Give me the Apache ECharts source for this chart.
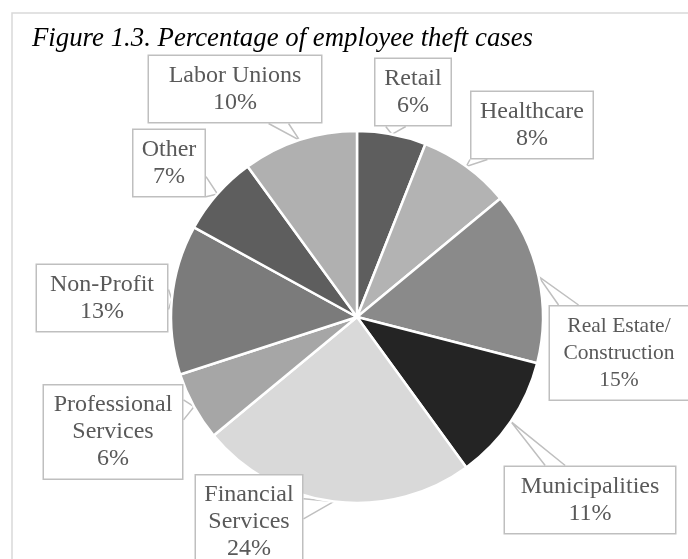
<!DOCTYPE html>
<html>
<head>
<meta charset="utf-8">
<script src="https://cdn.jsdelivr.net/npm/echarts@6/dist/echarts.min.js"></script>
<style>
  html, body { margin: 0; padding: 0; background: #ffffff; }
  #chart { width: 688px; height: 559px; }
</style>
</head>
<body>
<div id="chart"></div>
<script>
// ---- Data ----
var categories = ['Retail', 'Healthcare', 'Real Estate/\nConstruction', 'Municipalities',
  'Financial\nServices', 'Professional\nServices', 'Non-Profit', 'Other', 'Labor Unions'];
var values = [6, 8, 15, 11, 24, 6, 13, 7, 10];
var colors = ['#5e5e5e', '#b3b3b3', '#8a8a8a', '#242424', '#d9d9d9', '#a6a6a6', '#7b7b7b', '#5e5e5e', '#b0b0b0'];
var titleText = 'Figure 1.3. Percentage of employee theft cases';

// ---- Label box layout (center x, center y, box width, font size) ----
var labelBoxes = [
  [413, 92, 75, 24],
  [532, 125, 121, 24],
  [619, 353, 138, 21.5],
  [590, 500, 170, 24],
  [249, 522, 106, 24],
  [113, 432, 138, 24],
  [102, 298, 130, 24],
  [169, 163, 71, 24],
  [235, 89, 172, 24]
];

var serif = '"Liberation Serif", "Times New Roman", Times, serif';
var padH = 5;
var tailHalf = 10;

var seriesData = categories.map(function (name, i) {
  var b = labelBoxes[i];
  return {
    name: name,
    value: values[i],
    itemStyle: { color: colors[i] },
    label: {
      width: b[2] - 2 * padH,
      fontSize: b[3],
      lineHeight: 27
    }
  };
});

var chart = echarts.init(document.getElementById('chart'), null, { renderer: 'canvas' });
chart.setOption({
  backgroundColor: '#ffffff',
  animation: false,
  title: {
    text: titleText,
    left: 27,
    top: 20,
    textStyle: {
      fontFamily: serif,
      fontStyle: 'italic',
      fontWeight: 'normal',
      fontSize: 26.8,
      color: '#000000'
    }
  },
  graphic: [{
    type: 'rect',
    shape: { x: 12, y: 13, width: 700, height: 600 },
    style: { fill: 'none', stroke: '#d9d9d9', lineWidth: 1.5 },
    silent: true,
    z: -10
  }],
  series: [{
    type: 'pie',
    center: [357, 317],
    radius: 186,
    startAngle: 90,
    clockwise: true,
    avoidLabelOverlap: false,
    itemStyle: { borderColor: '#ffffff', borderWidth: 2.5 },
    label: {
      show: true,
      formatter: function (p) { return p.name + '\n' + p.value + '%'; },
      fontFamily: serif,
      color: '#595959',
      align: 'center',
      backgroundColor: '#ffffff',
      borderColor: '#bfbfbf',
      borderWidth: 1.5,
      padding: [7, padH, 5, padH]
    },
    labelLine: {
      show: true,
      length: 10,
      length2: 10,
      smooth: false,
      lineStyle: { color: '#bfbfbf', width: 1.5 }
    },
    labelLayout: function (params) {
      var b = labelBoxes[params.dataIndex];
      var res = { x: b[0], y: b[1], align: 'center', verticalAlign: 'middle' };
      var pts = params.labelLinePoints;
      if (pts && pts.length) {
        var s = pts[0];
        var hw = params.labelRect.width / 2, hh = params.labelRect.height / 2;
        var dx = b[0] - s[0], dy = b[1] - s[1];
        var tx = Math.abs(dx) > 1e-6 ? 1 - hw / Math.abs(dx) : -Infinity;
        var ty = Math.abs(dy) > 1e-6 ? 1 - hh / Math.abs(dy) : -Infinity;
        var t = Math.max(tx, ty, 0);
        var ex = s[0] + dx * t, ey = s[1] + dy * t;
        var a, c;
        if (ty >= tx) {
          // enters through top/bottom edge: spread along x
          var ax = Math.max(b[0] - hw, ex - tailHalf), cx = Math.min(b[0] + hw, ex + tailHalf);
          a = [ax, ey]; c = [cx, ey];
        } else {
          var ay = Math.max(b[1] - hh, ey - tailHalf), cy = Math.min(b[1] + hh, ey + tailHalf);
          a = [ex, ay]; c = [ex, cy];
        }
        res.labelLinePoints = [a, [s[0], s[1]], c];
      }
      return res;
    },
    data: seriesData
  }]
});
</script>
</body>
</html>
